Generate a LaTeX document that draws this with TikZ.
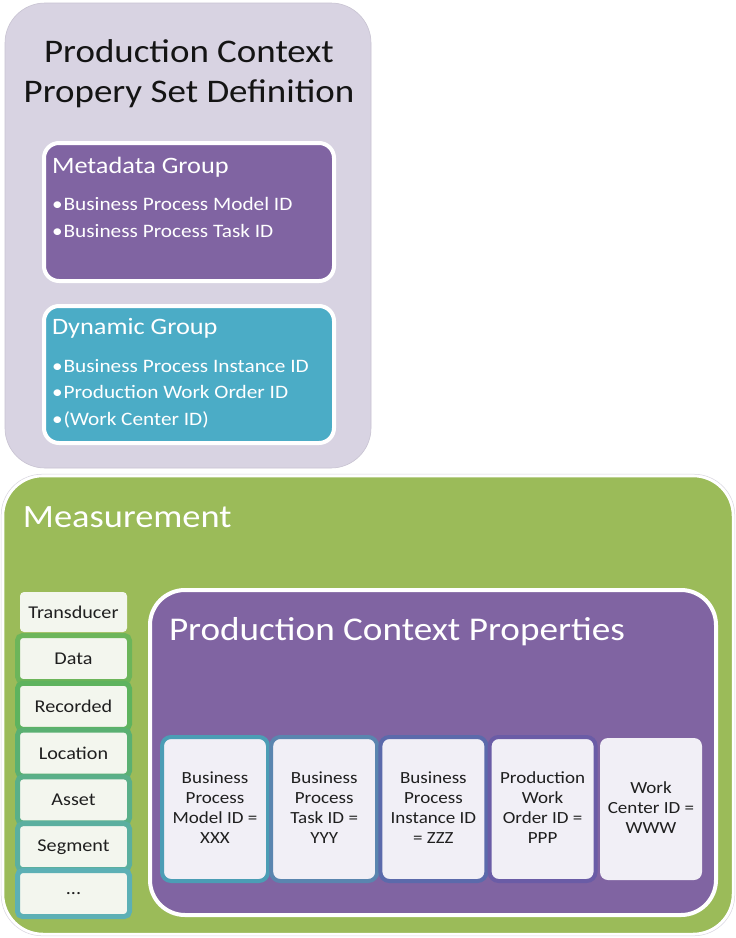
\documentclass[tikz,border=0pt]{standalone}
\usepackage{fontspec}
\setmainfont{Carlito}[FakeStretch=1.12]
\definecolor{lavbg}{RGB}{216,211,226}
\definecolor{lavedge}{RGB}{200,195,210}
\definecolor{purp}{RGB}{128,100,162}
\definecolor{teal}{RGB}{75,172,198}
\definecolor{olive}{RGB}{155,187,89}
\definecolor{listfill}{RGB}{243,246,238}
\definecolor{cardfill}{RGB}{241,239,246}
\definecolor{titleink}{RGB}{20,20,20}
\definecolor{lb1}{RGB}{108,181,90}
\definecolor{lb2}{RGB}{94,179,94}
\definecolor{lb3}{RGB}{90,176,114}
\definecolor{lb4}{RGB}{90,175,137}
\definecolor{lb5}{RGB}{91,175,159}
\definecolor{lb6}{RGB}{92,176,181}
\definecolor{cb1}{RGB}{75,157,181}
\definecolor{cb2}{RGB}{90,133,175}
\definecolor{cb3}{RGB}{91,106,171}
\definecolor{cb4}{RGB}{106,92,166}
\begin{document}
\begin{tikzpicture}[x=1pt,y=-1pt,
  every node/.style={inner sep=0pt, outer sep=0pt},
  panel/.style={anchor=north west, rounded corners=40pt},
  groupbox/.style={anchor=north west, draw=white, line width=4pt, rounded corners=15pt,
    minimum width=290pt, minimum height=138pt},
  listbox/.style={anchor=north west, fill=listfill, line width=5pt, rounded corners=5pt,
    minimum width=112pt, minimum height=46pt},
  listtext/.style={font=\fontsize{18}{21}\selectfont, text=black!88},
  card/.style={anchor=north west, fill=cardfill, line width=4pt, rounded corners=9pt,
    minimum width=106pt, minimum height=144pt},
  cardtext/.style={font=\fontsize{17}{20}\selectfont, align=center, text=black!88},
  bullet/.style={anchor=base west, font=\fontsize{19}{23}\selectfont, text=white},
  grouptitle/.style={anchor=base west, font=\fontsize{23.5}{28}\selectfont, text=white}]
\useasboundingbox (0,0) rectangle (736,938);
\fill[white] (0,0) rectangle (736,938);

% ---------- property set definition ----------
\node[panel, fill=lavbg, draw=lavedge, line width=0.6pt,
  minimum width=366pt, minimum height=465pt] (defpanel) at (5,3) {};
\node[anchor=base, font=\fontsize{33}{40}\selectfont, text=titleink] (deftitle1) at (189,62) {Production Context};
\node[anchor=base, font=\fontsize{33}{40}\selectfont, text=titleink] (deftitle2) at (189,102) {Propery Set Definition};

\node[groupbox, fill=purp] (meta) at (44,143) {};
\node[grouptitle] (metatitle) at (52,173) {Metadata Group};
\node[bullet] (meta1) at (52,210) {\textbullet\hspace{1pt}Business Process Model ID};
\node[bullet] (meta2) at (52,237) {\textbullet\hspace{1pt}Business Process Task ID};

\node[groupbox, fill=teal, minimum height=137pt] (dyn) at (44,306) {};
\node[grouptitle] (dyntitle) at (52,334) {Dynamic Group};
\node[bullet] (dyn1) at (52,372) {\textbullet\hspace{1pt}Business Process Instance ID};
\node[bullet] (dyn2) at (52,398) {\textbullet\hspace{1pt}Production Work Order ID};
\node[bullet] (dyn3) at (52,425) {\textbullet\hspace{1pt}(Work Center ID)};

% ---------- measurement ----------
\node[panel, fill=olive, draw=white, line width=2.5pt,
  minimum width=730pt, minimum height=458pt] (meas) at (3,476) {};
\draw[lavedge!70, line width=0.5pt, rounded corners=41pt] (1.2,474.2) rectangle (734.8,935.8);
\node[anchor=base west, font=\fontsize{32.5}{38}\selectfont, text=white] (meastitle) at (23,527) {Measurement};

% attribute list
\node[anchor=north west, fill=listfill, rounded corners=4pt,
  minimum width=107pt, minimum height=40pt] (l0) at (20,592) {};
\node[listbox, draw=lb1] (l1) at (17.5,635.5) {};
\node[listbox, draw=lb2] (l2) at (17.5,683.3) {};
\node[listbox, draw=lb3] (l3) at (17.5,730.1) {};
\node[listbox, draw=lb4] (l4) at (17.5,776.9) {};
\node[listbox, draw=lb5] (l5) at (17.5,823.7) {};
\node[listbox, draw=lb6] (l6) at (17.5,870.5) {};
\node[listtext] at (l0.center) {Transducer};
\node[listtext] at (l1.center) {Data};
\node[listtext] at (l2.center) {Recorded};
\node[listtext] at (l3.center) {Location};
\node[listtext] at (l4.center) {Asset};
\node[listtext] at (l5.center) {Segment};
\node[listtext] at (l6.center) {...};

% production context properties
\node[anchor=north west, fill=purp, draw=white, line width=4pt, rounded corners=35pt,
  minimum width=566pt, minimum height=325pt] (pcp) at (150,590) {};
\node[anchor=base west, font=\fontsize{33.2}{38}\selectfont, text=white] (pcptitle) at (169,640) {Production Context Properties};

\node[card, draw=cb1] (c1) at (162,737) {};
\node[card, draw=cb2] (c2) at (271.2,737) {};
\node[card, draw=cb3] (c3) at (380.4,737) {};
\node[card, draw=cb4] (c4) at (489.6,737) {};
\node[anchor=north west, fill=cardfill, rounded corners=8pt,
  minimum width=102pt, minimum height=142pt] (c5) at (600,738) {};
\node[cardtext] at ([yshift=1pt]c1.center) {Business\\Process\\Model ID =\\XXX};
\node[cardtext] at ([yshift=1pt]c2.center) {Business\\Process\\Task ID =\\YYY};
\node[cardtext] at ([yshift=1pt]c3.center) {Business\\Process\\Instance ID\\= ZZZ};
\node[cardtext] at ([yshift=1pt]c4.center) {Production\\Work\\Order ID =\\PPP};
\node[cardtext] at ([yshift=1pt]c5.center) {Work\\Center ID =\\WWW};
\end{tikzpicture}
\end{document}
